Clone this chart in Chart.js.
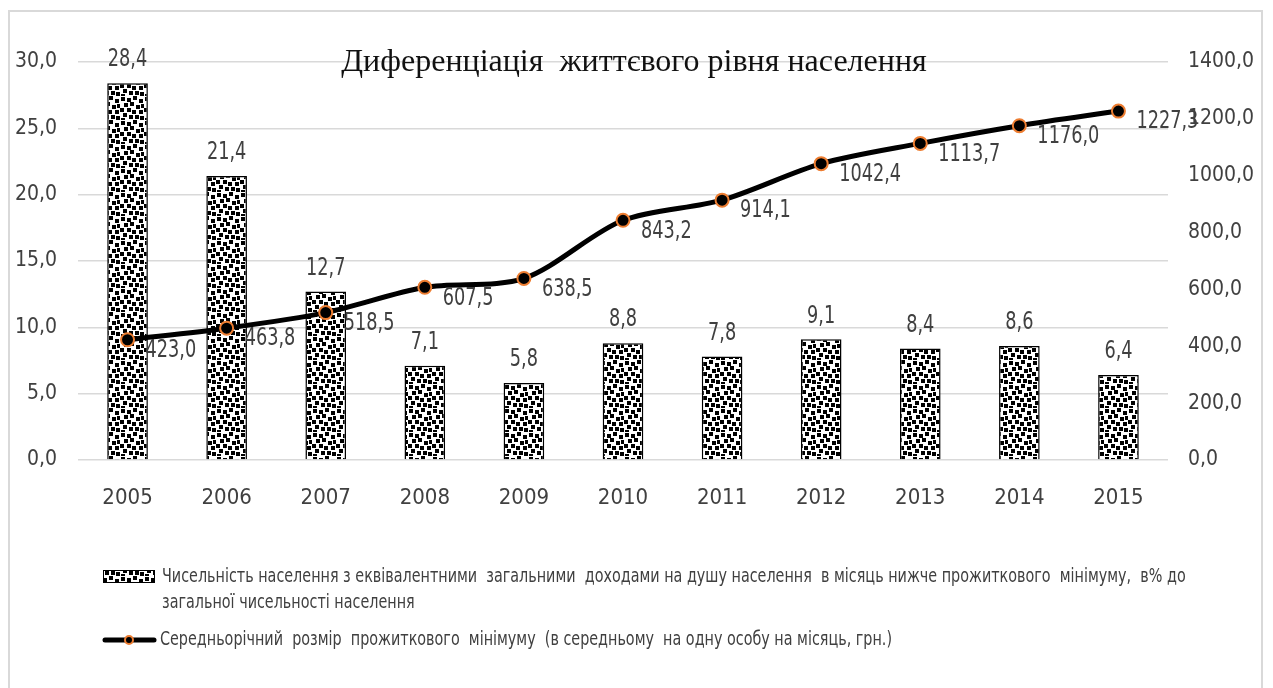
<!DOCTYPE html>
<html><head><meta charset="utf-8">
<script src="https://cdn.jsdelivr.net/npm/chart.js@4.4.1/dist/chart.umd.min.js"></script>
<style>
html,body{margin:0;padding:0;background:#fff}
#wrap{position:relative;width:1273px;height:688px;overflow:hidden;background:#fff}
#frame{position:absolute;left:8px;top:10px;width:1255px;height:720px;border:2px solid #d9d9d9;box-sizing:border-box}
#c{position:absolute;left:0;top:0}
</style></head>
<body><div id="wrap"><div id="frame"></div><canvas id="c" width="1273" height="688"></canvas></div>
<script>
const years = ['2005','2006','2007','2008','2009','2010','2011','2012','2013','2014','2015'];
const povertyShare = [28.4, 21.4, 12.7, 7.1, 5.8, 8.8, 7.8, 9.1, 8.4, 8.6, 6.4];
const subsistenceMin = [423.0, 463.8, 518.5, 607.5, 638.5, 843.2, 914.1, 1042.4, 1113.7, 1176.0, 1227.3];
const leftTicks = [0, 5, 10, 15, 20, 25, 30];
const rightTicks = [0, 200, 400, 600, 800, 1000, 1200, 1400];
const chartTitle = 'Диференціація  життєвого рівня населення';
const barSeriesName = ['Чисельність населення з еквівалентними  загальними  доходами на душу населення  в місяць нижче прожиткового  мінімуму,  в% до', 'загальної чисельності населення'];
const lineSeriesName = 'Середньорічний  розмір  прожиткового  мінімуму  (в середньому  на одну особу на місяць, грн.)';

const FONT = "'DejaVu Sans Condensed','Liberation Sans Narrow',sans-serif";
const TXT = '#404040';
const fmt = v => v.toFixed(1).replace('.', ',');

// irregular dotted fill pattern
function makePattern(ctx) {
  const n = 24;
  const t = document.createElement('canvas');
  t.width = n; t.height = n;
  const g = t.getContext('2d');
  g.fillStyle = '#fff'; g.fillRect(0, 0, n, n);
  g.fillStyle = '#000';
  [[1,1],[7,2],[13,0],[19,3],[4,7],[10,6],[16,9],[21,8],[0,12],[7,12],[12,14],[19,14],[3,17],[9,19],[15,19],[20,20],[1,22]]
    .forEach(p => g.fillRect(p[0], p[1], 4, 4));
  return ctx.createPattern(t, 'repeat');
}
const ctx = document.getElementById('c').getContext('2d');
const pattern = makePattern(ctx);

// draw narrow (horizontally compressed) text
function narrowText(c, text, x, y, size, sx, align) {
  c.save();
  c.translate(x, y);
  c.scale(sx, 1);
  c.font = size + 'px ' + FONT;
  c.textAlign = align;
  c.fillText(text, 0, 0);
  c.restore();
}

const overlay = {
  id: 'overlay',
  afterDatasetsDraw(chart) {
    const c = chart.ctx;
    c.save();
    c.fillStyle = TXT;
    c.textBaseline = 'bottom';
    const bm = chart.getDatasetMeta(1);
    bm.data.forEach((el, i) => narrowText(c, fmt(povertyShare[i]), el.x, el.y - 11, 24, 0.82, 'center'));
    c.textBaseline = 'middle';
    const lm = chart.getDatasetMeta(0);
    lm.data.forEach((el, i) => narrowText(c, fmt(subsistenceMin[i]), el.x + 18, el.y + 11, 24, 0.82, 'left'));
    c.restore();
  },
  afterDraw(chart) {
    const c = chart.ctx;
    c.save();
    c.fillStyle = '#111';
    c.font = "32px 'Liberation Serif','DejaVu Serif',serif";
    c.textAlign = 'center';
    c.textBaseline = 'middle';
    c.fillText(chartTitle, 634, 63);
    // legend: bar entry
    c.fillStyle = pattern;
    c.fillRect(103, 570, 52, 13);
    c.strokeStyle = '#000'; c.lineWidth = 1;
    c.strokeRect(103.5, 570.5, 51, 12);
    c.fillStyle = TXT;
    c.textBaseline = 'middle';
    narrowText(c, barSeriesName[0], 162, 577, 19, 0.84, 'left');
    narrowText(c, barSeriesName[1], 162, 603, 19, 0.84, 'left');
    // legend: line entry
    c.strokeStyle = '#000'; c.lineWidth = 5; c.lineCap = 'round';
    c.beginPath(); c.moveTo(105, 640); c.lineTo(154, 640); c.stroke();
    c.beginPath(); c.arc(129, 640, 4, 0, Math.PI * 2);
    c.fillStyle = '#000'; c.fill();
    c.strokeStyle = '#ed7d31'; c.lineWidth = 2; c.stroke();
    c.fillStyle = TXT;
    narrowText(c, lineSeriesName, 160, 640, 19, 0.84, 'left');
    c.restore();
  }
};

new Chart(ctx, {
  data: {
    labels: years,
    datasets: [
      {
        type: 'line', label: lineSeriesName, data: subsistenceMin, yAxisID: 'y1', order: 0,
        borderColor: '#000', borderWidth: 5, tension: 0.3,
        pointRadius: 6.5, pointBackgroundColor: '#000', pointBorderColor: '#ed7d31', pointBorderWidth: 2
      },
      {
        type: 'bar', label: barSeriesName.join(' '), data: povertyShare, yAxisID: 'y', order: 1,
        backgroundColor: pattern, borderColor: '#000', borderWidth: 1.5,
        categoryPercentage: 1, barPercentage: 0.41
      }
    ]
  },
  options: {
    responsive: false, animation: false,
    layout: { padding: { top: 62, left: 0, right: 0, bottom: 0 } },
    plugins: { legend: { display: false }, title: { display: false }, tooltip: { enabled: false } },
    scales: {
      x: {
        grid: { display: false, drawTicks: false }, border: { display: false },
        ticks: { color: TXT, font: { family: FONT, size: 22 }, padding: 25 },
        afterFit(s) { s.height = 228; }
      },
      y: {
        position: 'left', min: 0, max: 30,
        afterBuildTicks(s) { s.ticks = leftTicks.map(v => ({ value: v })); },
        grid: { color: '#d9d9d9', lineWidth: 1.5, drawTicks: false }, border: { display: false },
        ticks: { color: TXT, font: { family: FONT, size: 21 }, padding: 21, callback: v => fmt(v) },
        afterFit(s) { s.width = 78; }
      },
      y1: {
        position: 'right', min: 0, max: 1400,
        afterBuildTicks(s) { s.ticks = rightTicks.map(v => ({ value: v })); },
        grid: { display: false, drawTicks: false }, border: { display: false },
        ticks: { color: TXT, font: { family: FONT, size: 21 }, padding: 20, callback: v => fmt(v) },
        afterFit(s) { s.width = 105; }
      }
    }
  },
  plugins: [overlay]
});
</script>
</body></html>
